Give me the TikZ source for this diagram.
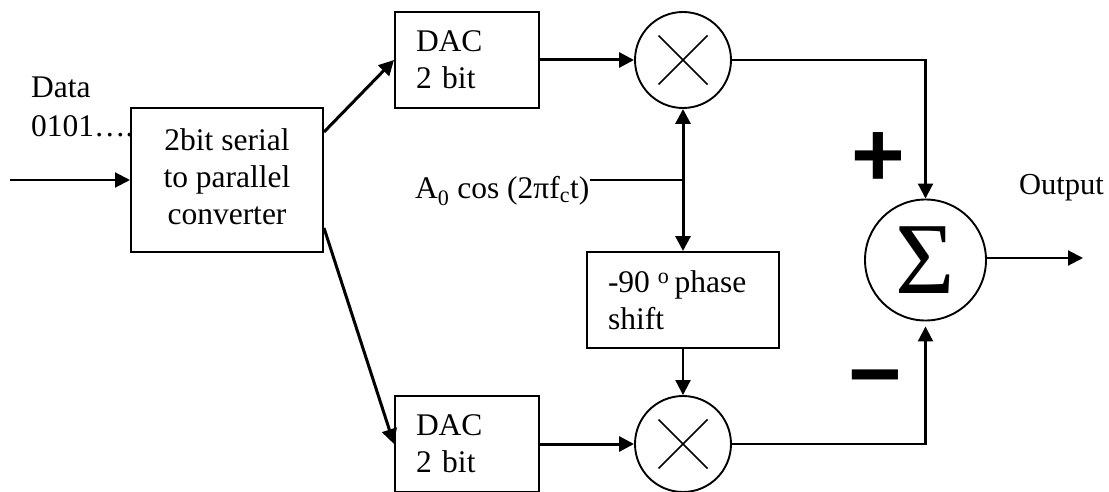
\documentclass[tikz,border=0pt]{standalone}
\usepackage{fontspec}
\setmainfont{Liberation Serif}
\newfontfamily\signfont{Liberation Sans}
\usetikzlibrary{arrows.meta}
\tikzset{
  tip/.tip={Triangle[length=15pt,width=15pt]},
  wire/.style={line width=2.1pt, -tip},
  heavywire/.style={wire, line width=3pt},
  blockbox/.style={draw, line width=2pt, inner xsep=21pt, inner ysep=0pt, align=left, minimum height=96pt},
  label/.style={inner sep=0pt, anchor=base west},
  mixer/.style={circle, draw, line width=1.9pt, inner sep=0pt, minimum size=96pt,
    path picture={\draw[line width=1.5pt] (path picture bounding box.center) ++(-24.5,-24.5) -- ++(49,49)
      (path picture bounding box.center) ++(-24.5,24.5) -- ++(49,-49);}},
  signmark/.style={inner sep=0pt, font=\fontsize{92}{92}\signfont\bfseries}
}
\begin{document}
\begin{tikzpicture}[x=1pt, y=-1pt, every node/.style={font=\fontsize{31.5}{37}\selectfont}]
  \useasboundingbox (0,0) rectangle (1109,492);
  % Serial input
  \node[label, align=left] (data) at (31,137) {Data\\[2pt]0101….};
  \coordinate (datain) at (10,180);
  \node[blockbox, inner xsep=0pt, align=center, minimum width=192pt, minimum height=144pt] (conv) at (227,180) {2bit serial\\to parallel\\converter\\[-30pt]};

  % DAC blocks
  \node[blockbox, text width=102pt] (daca) at (467,60) {DAC\\2 bit};
  \node[blockbox, text width=102pt] (dacb) at (467,444) {DAC\\2 bit};

  % Mixers
  \node[mixer] (mixa) at (683,60) {};
  \node[mixer] (mixb) at (683,444) {};

  % Carrier and phase shift
  \node[blockbox, text width=150pt] (phase) at (683,300) {-90\kern8pt\textsuperscript{o}\kern5pt phase\\shift};
  \node[label] (carrier) at (415,199) {A\textsubscript{0} cos (2πf\textsubscript{c}t)};
  \coordinate (tap) at (683,180);

  % Summer
  \node[circle, draw, line width=1.9pt, inner sep=0pt, minimum size=121pt, font=\fontsize{102}{102}\selectfont] (sum) at (925.5,260) {Σ};
  \node[signmark] (plus) at (878,160) {+};
  \node[signmark] (minus) at (875,388) {−};
  \node[label, font=\fontsize{30.5}{37}\selectfont] (output) at (1019,195) {Output};
  \coordinate (outtip) at (1083,258);

  % Flow arrows
  \draw[wire] (datain) -- (conv);
  \draw[heavywire] ([yshift=48pt]conv.east) -- (daca.west);
  \draw[heavywire] ([yshift=-48pt]conv.east) -- (dacb.west);
  \draw[heavywire] (daca) -- (mixa);
  \draw[heavywire] (dacb) -- (mixb);
  \draw[heavywire, tip-tip] (mixa) -- (phase);
  \draw[line width=1.9pt] (carrier.east |- tap) -- (tap);
  \draw[wire] (phase) -- (mixb);
  \draw[wire] (mixa) -| (sum);
  \draw[wire, shorten >=5pt] (mixb) -| (sum);
  \draw[wire] (sum.east |- outtip) -- (outtip);
\end{tikzpicture}
\end{document}
